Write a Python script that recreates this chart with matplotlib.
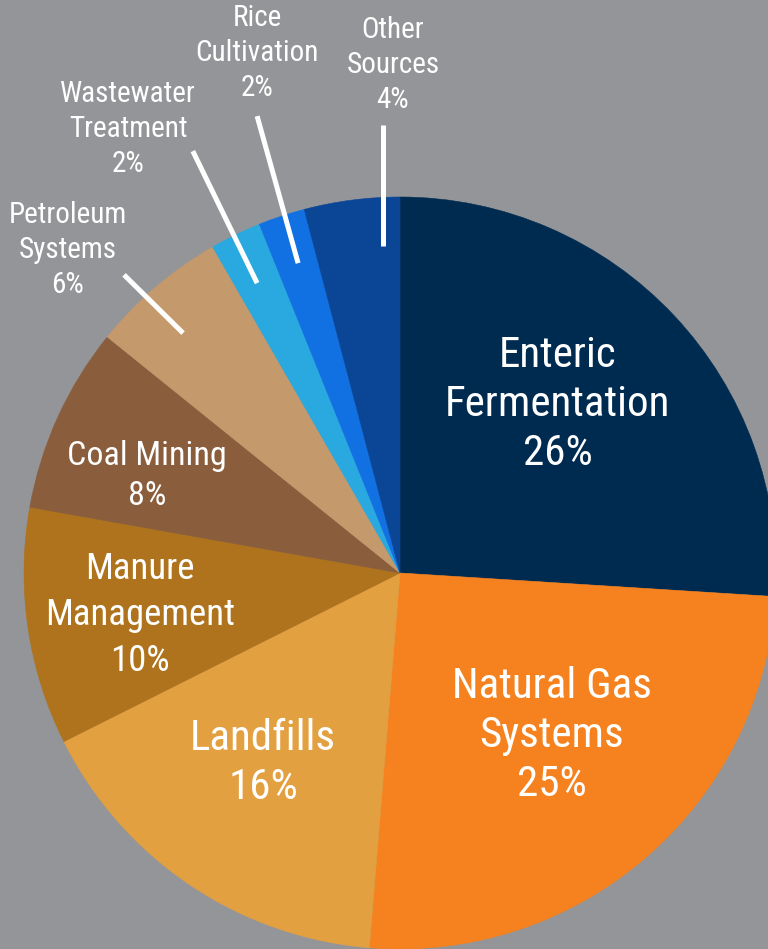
import matplotlib
matplotlib.use("Agg")
import matplotlib.pyplot as plt
import numpy as np

# methane emission sources, share in percent
sources = ["Enteric\nFermentation", "Natural Gas\nSystems", "Landfills",
           "Manure\nManagement", "Coal Mining", "Petroleum\nSystems",
           "Wastewater\nTreatment", "Rice\nCultivation", "Other\nSources"]
shares = [26.0, 25.3, 16.3, 10.2, 8.0, 5.9, 2.2, 2.0, 4.1]
pct_labels = ["26%", "25%", "16%", "10%", "8%", "6%", "2%", "2%", "4%"]
colors = ["#002b50", "#f5821f", "#e3a041", "#ae731c", "#8a5e3c",
          "#c4996b", "#29a9e0", "#1170e2", "#0b4696"]

bg = "#949598"
fonts = ["Roboto Condensed", "Liberation Sans Narrow", "Roboto"]

fig = plt.figure(figsize=(7.68, 9.49), dpi=100)
fig.patch.set_facecolor(bg)
ax = fig.add_axes([0, 0, 1, 1])
ax.set_facecolor(bg)

wedges, _ = ax.pie(shares, colors=colors, startangle=90, counterclock=False,
                   radius=1, wedgeprops=dict(linewidth=0.4, edgecolor="none"))
for w, c in zip(wedges, colors):
    w.set_edgecolor(c)

# pie is 376 px in radius, centre at (400, 573) px
R = 376.0
ax.set_xlim(-400 / R, 368 / R)
ax.set_ylim(-376 / R, 573 / R)
ax.set_aspect("auto")
ax.axis("off")

# label placement: (x, y, size, linespacing) in data units
inner = {0: (0.420, 0.447, 31, 1.25), 1: (0.404, -0.431, 31, 1.25),
         2: (-0.364, -0.505, 31, 1.25), 3: (-0.691, -0.112, 26.5, 1.35),
         4: (-0.673, 0.258, 24.5, 1.35)}
for i, (x, y, fs, ls) in inner.items():
    ax.text(x, y, sources[i] + "\n" + pct_labels[i], ha="center", va="center",
            color="white", fontsize=fs, linespacing=ls, family=fonts)

outer = {5: (-0.883, 0.859), 6: (-0.723, 1.181), 7: (-0.380, 1.383), 8: (-0.019, 1.351)}
leaders = {5: ((-0.577, 0.638), (-0.734, 0.793)),
           6: ((-0.380, 0.771), (-0.551, 1.122)),
           7: ((-0.271, 0.824), (-0.380, 1.215)),
           8: ((-0.045, 0.870), (-0.045, 1.191))}
for i, (x, y) in outer.items():
    ax.text(x, y, sources[i] + "\n" + pct_labels[i], ha="center", va="center",
            color="white", fontsize=21, linespacing=1.32, family=fonts)
    (x0, y0), (x1, y1) = leaders[i]
    ax.plot([x0, x1], [y0, y1], color="white", lw=3.6, solid_capstyle="butt")

fig.savefig("out.png", dpi=100, facecolor=bg)
